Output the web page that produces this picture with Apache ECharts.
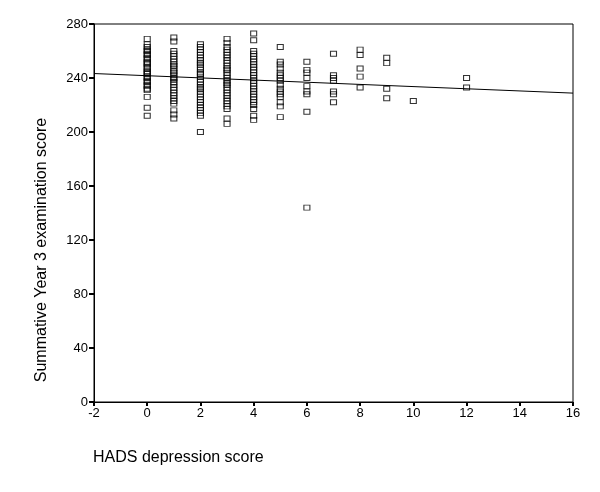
<!DOCTYPE html>
<html>
<head>
<meta charset="utf-8">
<script src="https://cdn.jsdelivr.net/npm/echarts@6/dist/echarts.min.js"></script>
<style>
  html, body { margin: 0; padding: 0; background: #fff; }
  #chart { width: 600px; height: 492px; }
</style>
</head>
<body>
<div id="chart"></div>
<script>
// HADS depression score levels and the exam scores seen at each level
var hadsLevels = [0, 1, 2, 3, 4, 5, 6, 7, 8, 9, 10, 12]
var scoresByLevel = [
  [269, 265, 263, 261, 260, 258, 257, 255, 254, 252, 251, 250, 248, 247, 245, 244, 243, 241, 240, 238, 237, 235, 234, 232, 231, 226, 218, 212],
  [270, 267, 260, 258, 256, 254, 252, 250, 249, 247, 245, 244, 242, 240, 239, 237, 235, 233, 231, 229, 227, 225, 223, 221, 216, 213, 210],
  [265, 263, 261, 259, 257, 255, 253, 251, 250, 248, 246, 244, 243, 241, 239, 237, 235, 233, 232, 230, 228, 226, 224, 222, 220, 218, 216, 214, 212, 200],
  [269, 266, 263, 261, 259, 257, 255, 253, 251, 249, 247, 246, 244, 242, 240, 238, 236, 235, 233, 231, 229, 227, 225, 223, 221, 219, 217, 210, 206],
  [273, 268, 260, 258, 256, 254, 252, 250, 248, 246, 244, 242, 240, 238, 236, 234, 232, 230, 228, 226, 224, 222, 220, 217, 212, 209],
  [263, 252, 250, 247, 244, 242, 240, 238, 235, 232, 230, 228, 226, 222, 219, 211],
  [252, 246, 244, 240, 234, 230, 228, 215, 144],
  [258, 242, 240, 238, 230, 228, 222],
  [261, 257, 247, 241, 233],
  [255, 251, 232, 225],
  [223],
  [240, 233]
]
// fitted line at the x-axis ends
var fitX = [-2, 16]
var fitY = [243.3, 228.8]

var xTicks = [-2, 0, 2, 4, 6, 8, 10, 12, 14, 16]
var yTicks = [0, 40, 80, 120, 160, 200, 240, 280]

var points = []
hadsLevels.forEach(function(h, i) {
  scoresByLevel[i].forEach(function(s) {
    points.push([h, s])
  })
})

var chart = echarts.init(document.getElementById('chart'))
var font = 'Liberation Sans, Arial, sans-serif'

chart.setOption({
  animation: false,
  backgroundColor: '#fff',
  grid: {
    left: 94,
    right: 27,
    top: 24,
    bottom: 90,
    show: true,
    borderColor: '#000',
    borderWidth: 1
  },
  xAxis: {
    type: 'value',
    min: xTicks[0],
    max: xTicks[xTicks.length - 1],
    interval: 2,
    splitLine: { show: false },
    axisLine: { onZero: false, lineStyle: { color: '#000', width: 1 } },
    axisTick: { show: true, length: 4, lineStyle: { color: '#000', width: 2 } },
    axisLabel: { color: '#000', fontFamily: font, fontSize: 13, margin: 5 }
  },
  yAxis: {
    type: 'value',
    min: yTicks[0],
    max: yTicks[yTicks.length - 1],
    interval: 40,
    splitLine: { show: false },
    axisLine: { onZero: false, lineStyle: { color: '#000', width: 1 } },
    axisTick: { show: true, length: 5, lineStyle: { color: '#000', width: 2 } },
    axisLabel: { color: '#000', fontFamily: font, fontSize: 13, margin: 6 }
  },
  graphic: [
    {
      type: 'text',
      left: 93,
      top: 450,
      style: { text: 'HADS depression score', fill: '#000', font: '16px ' + font }
    },
    {
      type: 'text',
      x: 42,
      y: 250,
      rotation: Math.PI / 2,
      style: {
        text: 'Summative Year 3 examination score',
        fill: '#000',
        font: '16px ' + font,
        align: 'center',
        verticalAlign: 'middle'
      }
    }
  ],
  series: [
    {
      type: 'scatter',
      data: points,
      symbol: 'rect',
      symbolSize: [6, 5],
      itemStyle: { color: 'transparent', borderColor: '#000', borderWidth: 1 }
    },
    {
      type: 'line',
      data: [[fitX[0], fitY[0]], [fitX[1], fitY[1]]],
      symbol: 'none',
      lineStyle: { color: '#000', width: 1 }
    }
  ]
})
</script>
</body>
</html>
